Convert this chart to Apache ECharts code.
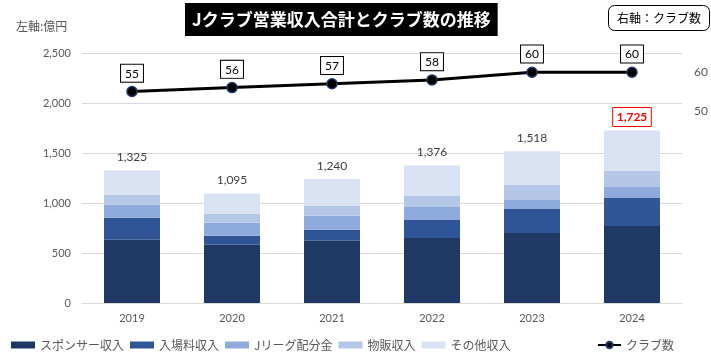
<!DOCTYPE html>
<html><head><meta charset="utf-8">
<script src="https://cdn.jsdelivr.net/npm/echarts@6/dist/echarts.min.js"></script>
<style>html,body{margin:0;padding:0;background:#fff}#c{width:711px;height:357px}</style>
</head><body><div id="c"></div>
<script>
const years = ['2019','2020','2021','2022','2023','2024'];
const sponsor = [633, 583, 623, 650, 700, 770];
const entrance = [220, 90, 110, 180, 240, 280];
const distribution = [130, 130, 140, 130, 90, 110];
const merch = [100, 90, 100, 110, 150, 160];
const other = [242, 202, 267, 306, 338, 405];
const totals = [1325, 1095, 1240, 1376, 1518, 1725];
const clubs = [55, 56, 57, 58, 60, 60];
const leftTicks = [0, 500, 1000, 1500, 2000, 2500];
const rightTicks = [50, 60];

const FONT = 'Lato, "Noto Sans CJK JP", sans-serif';
const JP = '"Noto Sans CJK JP", sans-serif';
const fmt = v => v.toLocaleString('en-US');

const chart = echarts.init(document.getElementById('c'), null, {renderer: 'canvas'});

const barNames = ['スポンサー収入','入場料収入','Jリーグ配分金','物販収入','その他収入'];
const barData = [sponsor, entrance, distribution, merch, other];
const barColors = ['#203864','#2F5597','#8FAADC','#B4C7E7','#DAE3F3'];

const series = barData.map((arr, i) => {
  const s = {
    name: barNames[i], type: 'bar', stack: 'rev', barWidth: '56%',
    itemStyle: {color: barColors[i]},
    data: arr.slice()
  };
  if (i === barData.length - 1) {
    s.data = arr.map((v, k) => {
      const last = k === arr.length - 1;
      return {
        value: v,
        label: {
          show: true, position: 'top', distance: last ? 4 : 7,
          formatter: () => fmt(totals[k]),
          fontFamily: FONT, fontSize: 12,
          color: last ? '#FF0000' : '#404040',
          fontWeight: last ? 'bold' : 'normal',
          borderColor: last ? '#FF0000' : 'transparent',
          borderWidth: last ? 1 : 0,
          padding: last ? [4, 4, 3, 4] : 0
        }
      };
    });
  }
  return s;
});

series.push({
  name: 'クラブ数', type: 'line', yAxisIndex: 1, data: clubs,
  symbol: 'circle', symbolSize: 10,
  lineStyle: {color: '#000', width: 3},
  itemStyle: {color: '#000', borderColor: '#1F3864', borderWidth: 1.5},
  label: {
    show: true, position: 'top', distance: 4,
    fontFamily: FONT, fontSize: 12, color: '#000',
    backgroundColor: '#fff', borderColor: '#000', borderWidth: 1,
    padding: [3, 4, 2, 4]
  },
  z: 5
});

chart.setOption({
  animation: false,
  textStyle: {fontFamily: FONT},
  title: [
    {text: 'Jクラブ営業収入合計とクラブ数の推移', left: 185, top: 3,
     backgroundColor: '#000', padding: [8, 7, 8, 7],
     textStyle: {color: '#fff', fontSize: 17, fontWeight: 'bold', fontFamily: JP}},
    {text: '右軸：クラブ数', left: 608, top: 5,
     borderColor: '#000', borderWidth: 1, borderRadius: 6, padding: [7, 9, 7, 9],
     textStyle: {color: '#000', fontSize: 12, fontWeight: 'normal', fontFamily: JP}},
    {text: '左軸:億円', left: 16, top: 20, padding: 0,
     textStyle: {color: '#595959', fontSize: 12, fontWeight: 'normal', fontFamily: JP}}
  ],
  legend: [
    {data: barNames, left: 11, top: 339, padding: 0, itemWidth: 24, itemHeight: 7, itemGap: 6,
     icon: 'rect', textStyle: {color: '#595959', fontSize: 12, fontFamily: JP}},
    {data: ['クラブ数'], left: 597, top: 339, padding: 0, itemWidth: 23, itemHeight: 8,
     textStyle: {color: '#595959', fontSize: 12, fontFamily: JP}}
  ],
  grid: {left: 82, right: 29, top: 53, bottom: 54, containLabel: false},
  xAxis: {
    type: 'category', data: years,
    axisLine: {lineStyle: {color: '#D9D9D9'}}, axisTick: {show: false},
    axisLabel: {color: '#595959', fontSize: 11, margin: 10, fontFamily: FONT}
  },
  yAxis: [
    {type: 'value', min: leftTicks[0], max: leftTicks[leftTicks.length-1], interval: 500,
     axisLabel: {color: '#595959', fontSize: 11, margin: 11, formatter: v => fmt(v), fontFamily: FONT},
     splitLine: {lineStyle: {color: '#D9D9D9'}}, axisLine: {show: false}, axisTick: {show: false}},
    {type: 'value', min: 0, max: 65, interval: 10,
     axisLabel: {color: '#595959', fontSize: 12, margin: 12, fontFamily: FONT,
       formatter: v => rightTicks.includes(v) ? String(v) : ''},
     splitLine: {show: false}, axisLine: {show: false}, axisTick: {show: false}}
  ],
  series: series
});
</script></body></html>
